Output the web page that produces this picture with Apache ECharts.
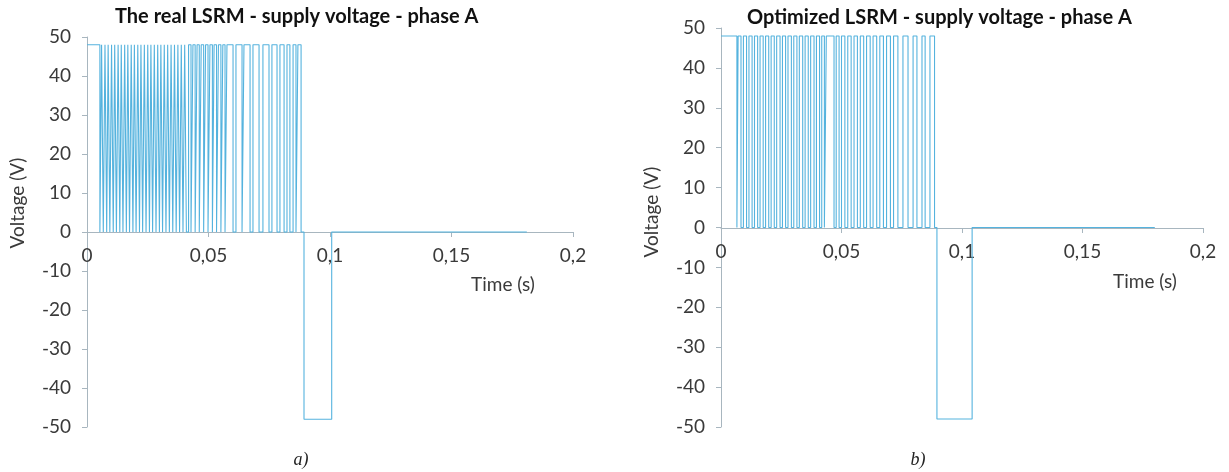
<!DOCTYPE html>
<html>
<head>
<meta charset="utf-8">
<script src="https://cdn.jsdelivr.net/npm/echarts@6/dist/echarts.min.js"></script>
<style>
  html, body { margin: 0; padding: 0; background: #fff; }
  #chart { width: 1229px; height: 472px; }
</style>
</head>
<body>
<div id="chart"></div>
<script>
// Phase A supply voltage, hysteresis chopping, then demagnetisation at -48 V
const supplyLevel = 48;                       // V
const xTickValues = [0, 0.05, 0.1, 0.15, 0.2];
const xTickLabels = ['0', '0,05', '0,1', '0,15', '0,2'];
const yTickLabels = ['-50', '-40', '-30', '-20', '-10', '0', '10', '20', '30', '40', '50'];

// (a) the real LSRM: switching instants in seconds
const realFirstOff = 0.0053;
const realPulses = [
  [0.0060, 0.0067], [0.0074, 0.0081], [0.0087, 0.0094], [0.0101, 0.0108], [0.0114, 0.0121],
  [0.0128, 0.0135], [0.0141, 0.0148], [0.0155, 0.0162], [0.0168, 0.0175], [0.0182, 0.0189],
  [0.0195, 0.0202], [0.0209, 0.0216], [0.0222, 0.0229], [0.0236, 0.0243], [0.0250, 0.0257],
  [0.0263, 0.0270], [0.0277, 0.0284], [0.0291, 0.0298], [0.0304, 0.0311], [0.0318, 0.0325],
  [0.0332, 0.0339], [0.0346, 0.0353], [0.0360, 0.0367], [0.0374, 0.0381], [0.0388, 0.0395],
  [0.0402, 0.0409],
  [0.0418, 0.0428], [0.0436, 0.0445], [0.0453, 0.0462], [0.0470, 0.0480], [0.0488, 0.0498],
  [0.0506, 0.0516], [0.0523, 0.0533], [0.0541, 0.0551], [0.0559, 0.0568],
  [0.0576, 0.0601], [0.0613, 0.0638], [0.0646, 0.0671], [0.0683, 0.0708], [0.0724, 0.0749],
  [0.0761, 0.0782], [0.0794, 0.0811], [0.0823, 0.0835], [0.0848, 0.0860], [0.0868, 0.0881]
];
const realNegative = [0.0893, 0.1007];
const realEnd = 0.181;

// (b) the optimized LSRM: switching instants in seconds
const optFirstOff = 0.0066;
const optPulses = [
  [0.0071, 0.0083], [0.0093, 0.0106], [0.0116, 0.0129], [0.0139, 0.0152], [0.0162, 0.0175],
  [0.0185, 0.0198], [0.0208, 0.0221], [0.0231, 0.0245], [0.0255, 0.0268], [0.0278, 0.0292],
  [0.0302, 0.0315], [0.0325, 0.0339], [0.0349, 0.0362], [0.0372, 0.0386], [0.0396, 0.0409],
  [0.0418, 0.0429], [0.0437, 0.0469],
  [0.0478, 0.0490], [0.0500, 0.0514], [0.0526, 0.0540], [0.0552, 0.0566], [0.0578, 0.0592],
  [0.0604, 0.0619], [0.0631, 0.0646], [0.0659, 0.0674], [0.0687, 0.0703], [0.0716, 0.0734],
  [0.0755, 0.0776], [0.0797, 0.0813], [0.0834, 0.0847], [0.0867, 0.0886]
];
const optNegative = [0.0896, 0.1042];
const optEnd = 0.180;

function buildWave(firstOff, pulses, negative, end) {
  const pts = [[0, supplyLevel], [firstOff, supplyLevel], [firstOff, 0]];
  pulses.forEach(([on, off]) => {
    pts.push([on, 0], [on, supplyLevel], [off, supplyLevel], [off, 0]);
  });
  pts.push([negative[0], 0], [negative[0], -supplyLevel],
           [negative[1], -supplyLevel], [negative[1], 0], [end, 0]);
  return pts;
}

const lineColor = '#55b3de';
const axisColor = '#a8b6bf';
const textColor = '#3a3a3a';
const font = 'Lato, "Open Sans", sans-serif';

// x axis sits on the 0 V level: shift it up from the bottom edge of its grid
function xAxisFor(gridIndex, zeroShift) {
  return {
    type: 'value', gridIndex, min: 0, max: 0.2, interval: 0.05,
    position: 'bottom', offset: -zeroShift,
    axisLine: { onZero: false, lineStyle: { color: axisColor, width: 1 } },
    axisTick: { show: true, length: 5, lineStyle: { color: axisColor } },
    axisLabel: {
      color: textColor, fontSize: 19, fontFamily: font, margin: 14,
      formatter: v => xTickLabels[xTickValues.findIndex(t => Math.abs(t - v) < 1e-9)]
    },
    splitLine: { show: false }
  };
}
function yAxisFor(gridIndex) {
  return {
    type: 'value', gridIndex, min: -50, max: 50, interval: 10,
    axisLine: { show: true, onZero: false, lineStyle: { color: axisColor, width: 1 } },
    axisTick: { show: true, length: 5, lineStyle: { color: axisColor } },
    axisLabel: {
      color: textColor, fontSize: 19, fontFamily: font, margin: 16,
      formatter: v => yTickLabels[Math.round((v + 50) / 10)]
    },
    splitLine: { show: false }
  };
}

const chart = echarts.init(document.getElementById('chart'), null, { renderer: 'canvas' });
chart.setOption({
  animation: false,
  backgroundColor: '#ffffff',
  title: [
    { text: 'The real LSRM - supply voltage - phase A', left: 110, top: 2,
      textStyle: { fontFamily: font, fontWeight: 'bold', fontSize: 20, color: '#111' } },
    { text: 'Optimized LSRM - supply voltage - phase A', left: 742, top: 3,
      textStyle: { fontFamily: font, fontWeight: 'bold', fontSize: 20, color: '#111' } }
  ],
  grid: [
    { left: 87, right: 656, top: 37, bottom: 45, containLabel: false },
    { left: 721, right: 26, top: 28, bottom: 45, containLabel: false }
  ],
  xAxis: [xAxisFor(0, 195), xAxisFor(1, 199)],
  yAxis: [yAxisFor(0), yAxisFor(1)],
  series: [
    { type: 'line', xAxisIndex: 0, yAxisIndex: 0, data: buildWave(realFirstOff, realPulses, realNegative, realEnd),
      showSymbol: false, lineStyle: { color: lineColor, width: 1.1 } },
    { type: 'line', xAxisIndex: 1, yAxisIndex: 1, data: buildWave(optFirstOff, optPulses, optNegative, optEnd),
      showSymbol: false, lineStyle: { color: lineColor, width: 1.1 } }
  ],
  graphic: [
    { type: 'text', x: 18, y: 203, rotation: Math.PI / 2, style: { text: 'Voltage (V)', font: '19px ' + font, fill: textColor, align: 'center', verticalAlign: 'middle' } },
    { type: 'text', x: 652, y: 212, rotation: Math.PI / 2, style: { text: 'Voltage (V)', font: '19px ' + font, fill: textColor, align: 'center', verticalAlign: 'middle' } },
    { type: 'text', x: 503, y: 285, style: { text: 'Time (s)', font: '19px ' + font, fill: textColor, align: 'center', verticalAlign: 'middle' } },
    { type: 'text', x: 1145, y: 282, style: { text: 'Time (s)', font: '19px ' + font, fill: textColor, align: 'center', verticalAlign: 'middle' } },
    { type: 'text', x: 301, y: 460, style: { text: 'a)', font: 'italic 18px "Liberation Serif", serif', fill: '#222', align: 'center', verticalAlign: 'middle' } },
    { type: 'text', x: 918, y: 460, style: { text: 'b)', font: 'italic 18px "Liberation Serif", serif', fill: '#222', align: 'center', verticalAlign: 'middle' } }
  ]
});
</script>
</body>
</html>
